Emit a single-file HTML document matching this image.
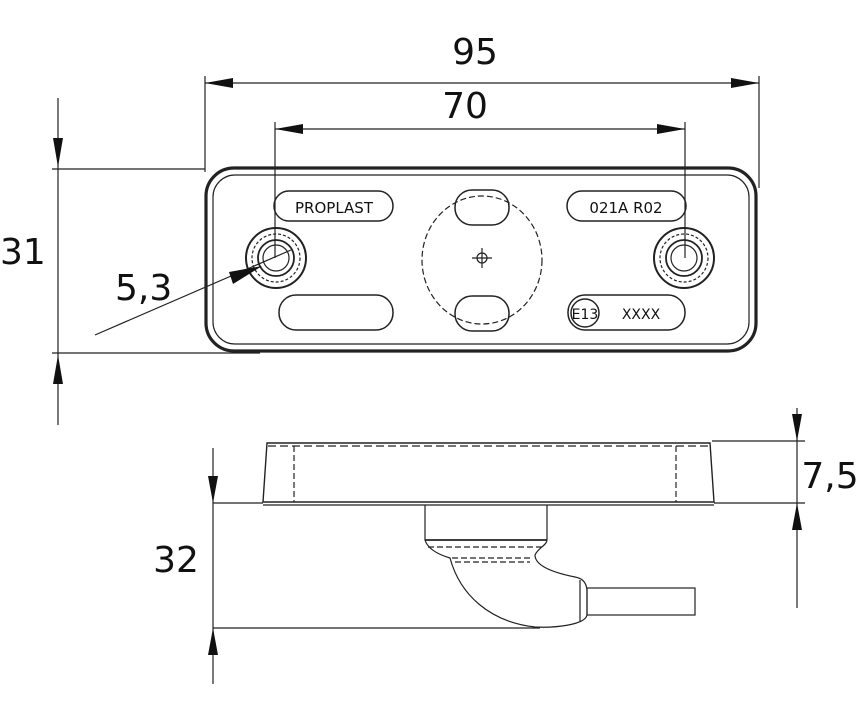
<!DOCTYPE html>
<html><head><meta charset="utf-8"><style>html,body{margin:0;padding:0;background:#fff}svg{display:block}</style></head>
<body>
<svg width="862" height="718" viewBox="0 0 862 718" xmlns="http://www.w3.org/2000/svg" font-family="'DejaVu Sans','Liberation Sans',sans-serif">
<g stroke="#222" fill="none" stroke-width="1.2">
<!-- 95 dimension -->
<line x1="205" y1="83" x2="759" y2="83"/>
<line x1="205" y1="76" x2="205" y2="172"/>
<line x1="759" y1="76" x2="759" y2="188"/>
<!-- 70 dimension -->
<line x1="275" y1="129" x2="685" y2="129"/>
<line x1="275" y1="122" x2="275" y2="258"/>
<line x1="685" y1="122" x2="685" y2="258"/>
<!-- 31 dimension -->
<line x1="58" y1="98" x2="58" y2="425"/>
<line x1="52" y1="169" x2="205" y2="169"/>
<line x1="52" y1="353" x2="260" y2="353"/>
<!-- outline -->
<rect x="206" y="168" width="550" height="183" rx="28" stroke-width="3.2"/>
<rect x="213" y="175" width="536" height="169" rx="22" stroke-width="1.2"/>
<!-- holes -->
<circle cx="276" cy="258" r="30" stroke-width="2"/>
<circle cx="276" cy="258" r="24" stroke-dasharray="3 2"/>
<circle cx="276" cy="258" r="18" stroke-width="1.8"/>
<circle cx="276" cy="258" r="13"/>
<circle cx="684" cy="258" r="30" stroke-width="2"/>
<circle cx="684" cy="258" r="24" stroke-dasharray="3 2"/>
<circle cx="684" cy="258" r="18" stroke-width="1.8"/>
<circle cx="684" cy="258" r="13"/>
<!-- pills -->
<rect x="274" y="191" width="119" height="30" rx="15" stroke-width="1.5"/>
<rect x="567" y="191" width="119" height="30" rx="15" stroke-width="1.5"/>
<rect x="279" y="295" width="114" height="35" rx="17" stroke-width="1.5"/>
<rect x="568" y="295" width="117" height="35" rx="17" stroke-width="1.5"/>
<circle cx="585" cy="313" r="14" stroke-width="1.5"/>
<!-- center -->
<ellipse cx="482" cy="260" rx="60" ry="64" stroke-dasharray="6 3"/>
<rect x="455" y="190" width="54" height="35" rx="17" stroke-width="1.5"/>
<rect x="455" y="296" width="54" height="35" rx="17" stroke-width="1.5"/>
<circle cx="482" cy="258" r="5"/>
<line x1="472" y1="258" x2="492" y2="258"/>
<line x1="482" y1="248" x2="482" y2="268"/>
<!-- 5,3 leader -->
<line x1="95" y1="335" x2="291" y2="250"/>
<!-- side view -->
<path d="M267 443 L710 443 L714 502 L263 502 Z" stroke-width="1.4"/>
<line x1="263" y1="505" x2="714" y2="505"/>
<line x1="268" y1="446" x2="708" y2="446" stroke-dasharray="8 4"/>
<line x1="294" y1="446" x2="294" y2="502" stroke-dasharray="6 3"/>
<line x1="676" y1="446" x2="676" y2="502" stroke-dasharray="6 3"/>
<path d="M425 505 L425 540 C428 550 440 555 450 558 C460 595 490 622 535 627 C555 628 585 625 587 615 L587 590 C586 580 580 578 575 577 C550 572 535 565 535 555 C538 548 547 545 547 540 L547 505"/>
<line x1="425" y1="540" x2="547" y2="540" stroke-width="1.8"/>
<line x1="428" y1="547" x2="544" y2="547" stroke-dasharray="6 3"/>
<line x1="452" y1="558" x2="533" y2="558" stroke-dasharray="6 3"/>
<line x1="455" y1="562" x2="530" y2="562" stroke-dasharray="6 3"/>
<line x1="580" y1="580" x2="580" y2="622"/>
<rect x="587" y="588" width="108" height="27"/>
<!-- 7,5 dim -->
<line x1="712" y1="441" x2="805" y2="441"/>
<line x1="714" y1="503" x2="805" y2="503"/>
<line x1="797" y1="408" x2="797" y2="608"/>
<!-- 32 dim -->
<line x1="213" y1="448" x2="213" y2="684"/>
<line x1="213" y1="503" x2="263" y2="503"/>
<line x1="213" y1="628" x2="540" y2="628"/>
</g>
<g fill="#111">
<polygon points="205,83 233,78 233,88"/>
<polygon points="759,83 731,78 731,88"/>
<polygon points="275,129 303,124 303,134"/>
<polygon points="685,129 657,124 657,134"/>
<polygon points="58,167 53,138 63,138"/>
<polygon points="58,355 53,384 63,384"/>
<polygon points="262,266 229,272 233,284"/>
<polygon points="797,441 792,414 802,414"/>
<polygon points="797,503 792,530 802,530"/>
<polygon points="213,503 208,476 218,476"/>
<polygon points="213,628 208,655 218,655"/>
</g>
<g fill="#111">
<text x="475" y="64" font-size="36" text-anchor="middle">95</text>
<text x="465" y="118" font-size="36" text-anchor="middle">70</text>
<text x="0" y="264" font-size="36">31</text>
<text x="115" y="300" font-size="36">5,3</text>
<text x="830" y="488" font-size="36" text-anchor="middle">7,5</text>
<text x="176" y="572" font-size="36" text-anchor="middle">32</text>
<text x="334" y="213" font-size="15" text-anchor="middle">PROPLAST</text>
<text x="626" y="213" font-size="15" text-anchor="middle">021A R02</text>
<text x="585" y="319" font-size="14" text-anchor="middle">E13</text>
<text x="641" y="319" font-size="14" text-anchor="middle">XXXX</text>
</g>
</svg>
</body></html>
